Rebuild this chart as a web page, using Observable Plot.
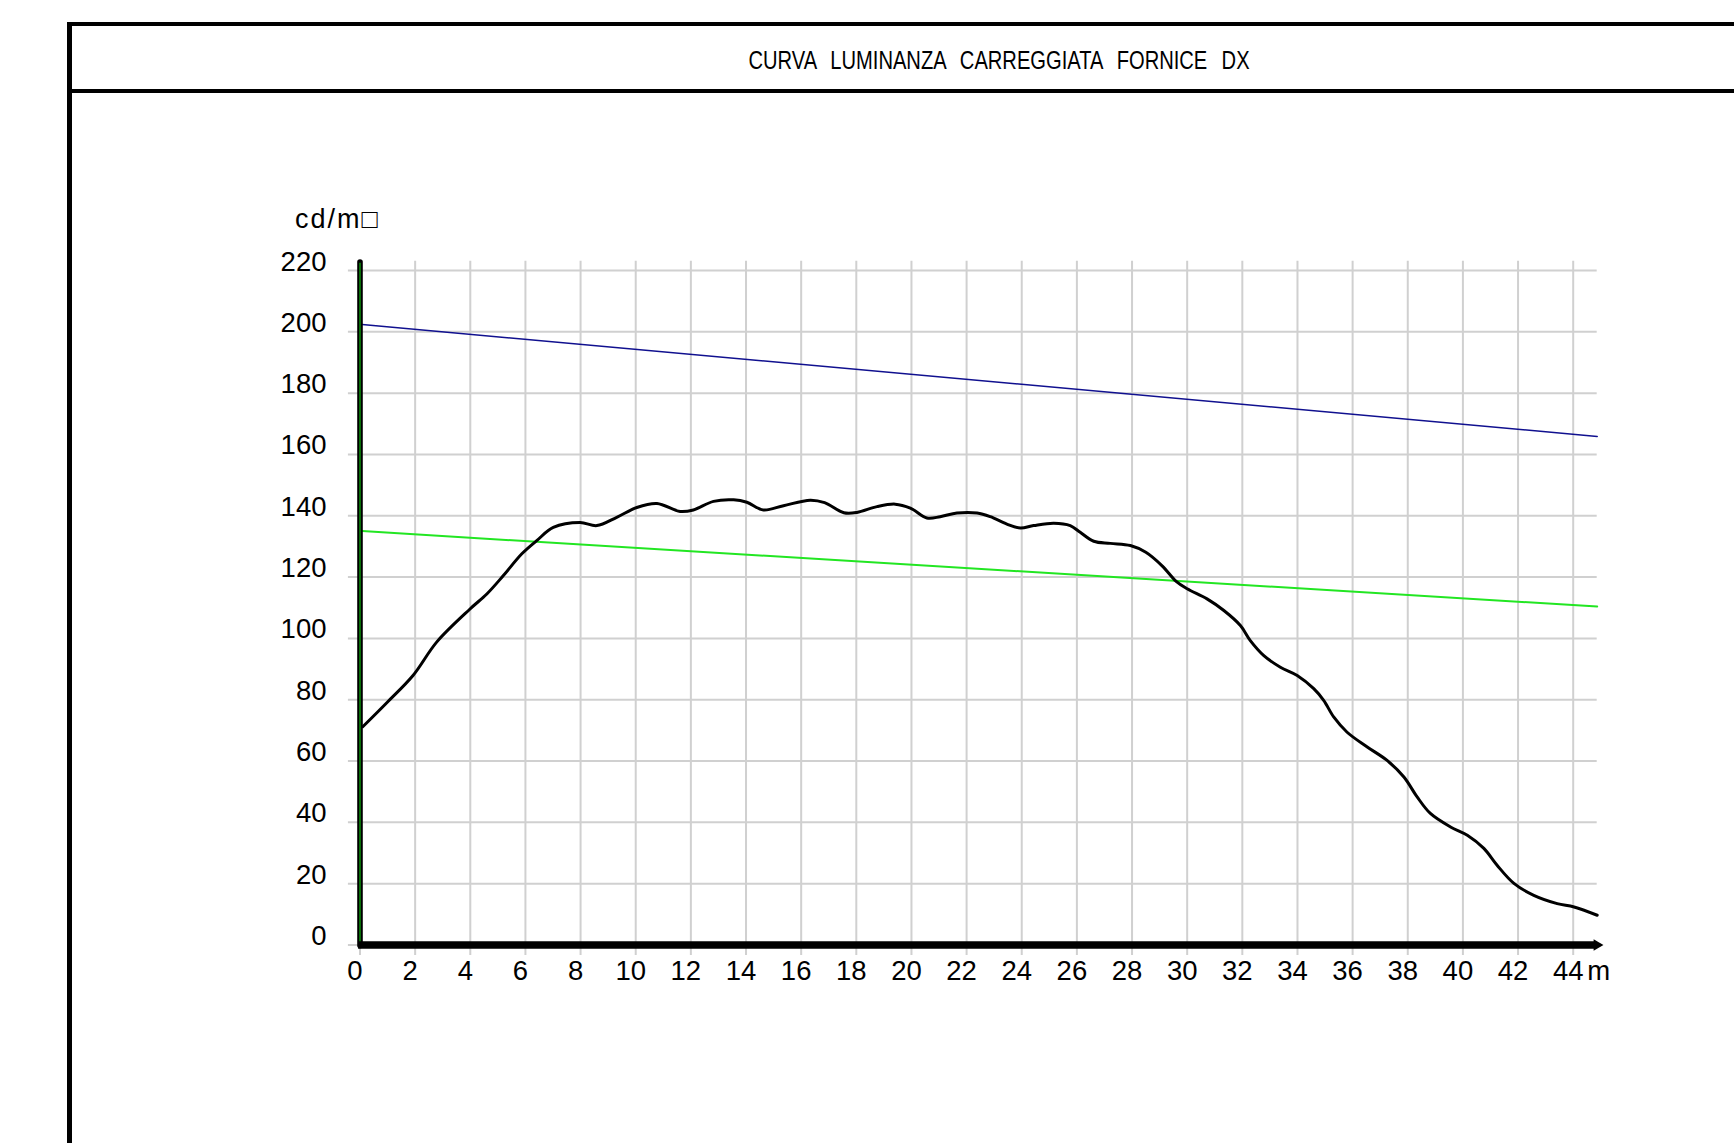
<!DOCTYPE html>
<html>
<head>
<meta charset="utf-8">
<script src="https://cdn.jsdelivr.net/npm/d3@7"></script>
<script src="https://cdn.jsdelivr.net/npm/@observablehq/plot@0.6"></script>
<style>
  html, body { margin: 0; padding: 0; background: #fff; overflow: hidden; }
  #wrap { position: relative; width: 1734px; height: 1143px; background: #fff; }
  #chart { position: absolute; left: 0; top: 0; }
  .frame { position: absolute; left: 66.5px; top: 21.5px; right: -20px; bottom: -20px;
           border-left: 5px solid #000; border-top: 4.5px solid #000; }
  .sep { position: absolute; left: 66.5px; right: 0; top: 89px; height: 4.3px; background: #000; }
  .title { position: absolute; left: 999px; top: 61px; white-space: nowrap;
           font-family: "Liberation Sans", Arial, sans-serif; font-size: 25.5px; line-height: 1;
           word-spacing: 11px; color: #000;
           transform: translate(-50%, -50%) scaleX(0.79); }
  .unit-y { letter-spacing: 2px; }
</style>
</head>
<body>
<div id="wrap">
  <div id="chart"></div>
  <div class="frame"></div>
  <div class="sep"></div>
  <div class="title">CURVA LUMINANZA CARREGGIATA FORNICE DX</div>
</div>
<script>
// ---- data ----
const xTicks = [0, 2, 4, 6, 8, 10, 12, 14, 16, 18, 20, 22, 24, 26, 28, 30, 32, 34, 36, 38, 40, 42, 44];
const yTicks = [0, 20, 40, 60, 80, 100, 120, 140, 160, 180, 200, 220];
const xUnit = "m";
const yUnit = "cd/m\u25A1";

// measured luminance curve (black)
const curveX = [0.1, 0.99, 1.93, 2.78, 3.99, 4.6, 5.2, 5.87, 6.41, 7.01, 7.98, 8.59, 9.31, 10.04, 10.77,
  11.61, 12.09, 12.82, 13.55, 14.03, 14.63, 15.36, 16.33, 16.85, 17.55, 18.02, 18.75, 19.41, 19.96,
  20.56, 21.04, 21.65, 22.38, 22.86, 23.46, 23.95, 24.43, 25.16, 25.76, 26.12, 26.61, 27.21, 27.94,
  28.5, 29.1, 29.6, 30.0, 30.72, 31.33, 31.93, 32.29, 32.78, 33.38, 33.99, 34.59, 34.95, 35.32, 35.8,
  36.53, 37.25, 37.86, 38.34, 38.82, 39.55, 40.16, 40.76, 41.24, 41.85, 42.57, 43.42, 44.03, 44.87];
const curveY = [71.2, 79.2, 88.0, 98.8, 109.6, 114.5, 120.5, 127.6, 131.9, 136.2, 137.8, 136.8, 139.5, 142.7, 144.0,
  141.4, 141.9, 144.7, 145.2, 144.4, 141.9, 143.3, 145.1, 144.3, 141.0, 141.1, 143.0, 143.8, 142.5,
  139.3, 139.7, 140.9, 140.9, 139.7, 137.3, 136.0, 136.8, 137.6, 136.8, 134.6, 131.7, 131.0, 130.3,
  128.1, 123.6, 118.6, 116.2, 112.9, 109.1, 104.2, 99.3, 94.4, 90.6, 87.9, 83.6, 79.8, 74.3, 69.4,
  64.6, 60.2, 54.8, 48.3, 42.9, 38.5, 35.8, 31.5, 26.0, 20.1, 16.2, 13.5, 12.4, 9.7];

// upper reference line (blue)
const upperX = [0.08, 44.87];
const upperY = [202.4, 165.9];

// lower reference line (green)
const lowerX = [0.08, 44.87];
const lowerY = [135.0, 110.4];

const toRows = (xs, ys) => xs.map((x, i) => ({x, y: ys[i]}));
const curve = toRows(curveX, curveY);
const upper = toRows(upperX, upperY);
const lower = toRows(lowerX, lowerY);

const font = "Liberation Sans, Arial, sans-serif";

const chart = Plot.plot({
  width: 1734,
  height: 1143,
  marginLeft: 359.5,
  marginRight: 135.1,
  marginTop: 259.3,
  marginBottom: 198.5,
  x: {domain: [0, 44.95], axis: null},
  y: {domain: [0, 223.5], axis: null},
  style: {background: "transparent", fontFamily: font},
  marks: [
    // grid
    Plot.ruleX(xTicks, {x: d => d, y1: -3.4, y2: 223.0, stroke: "#d0d0d0", strokeWidth: 2}),
    Plot.ruleY(yTicks, {y: d => d, x1: -0.42, x2: 44.87, stroke: "#d0d0d0", strokeWidth: 2}),
    // reference lines
    Plot.line(upper, {x: "x", y: "y", stroke: "#10108f", strokeWidth: 1.5}),
    Plot.line(lower, {x: "x", y: "y", stroke: "#22e622", strokeWidth: 2}),
    // measured curve
    Plot.line(curve, {x: "x", y: "y", stroke: "#000", strokeWidth: 3, curve: "catmull-rom"}),
    // y axis (black with green core)
    Plot.ruleX([0], {y1: -0.3, y2: 222.6, stroke: "#000", strokeWidth: 5.6, strokeLinecap: "round"}),
    Plot.ruleX([0], {y1: 0, y2: 222.4, stroke: "#0b8a0b", strokeWidth: 1.6}),
    // x axis band with arrow tip
    Plot.ruleY([0], {x1: -0.05, x2: 44.82, stroke: "#000", strokeWidth: 7.3}),
    Plot.dot([0], {x: 44.86, y: 0, symbol: "triangle", rotate: 90, r: 4.2, fill: "#000"}),
    // tick labels
    Plot.text(yTicks, {x: 0, y: d => d, text: d => String(d), textAnchor: "end", lineAnchor: "bottom",
      dx: -33.5, fontSize: 27.5, fill: "#000", fontFamily: font}),
    Plot.text(xTicks, {x: d => d, y: 0, text: d => String(d), textAnchor: "middle", lineAnchor: "bottom",
      dx: -5, dy: 35, fontSize: 27.5, fill: "#000", fontFamily: font}),
    Plot.text([xUnit], {x: 44, y: 0, text: d => d, textAnchor: "start", lineAnchor: "bottom",
      dx: 14, dy: 35, fontSize: 27.5, fill: "#000", fontFamily: font}),
    Plot.text([yUnit], {x: 0, y: 220, text: d => d, textAnchor: "start", lineAnchor: "bottom",
      dx: -65, dy: -43, fontSize: 27, fill: "#000", fontFamily: font, className: "unit-y"})
  ]
});
document.getElementById("chart").appendChild(chart);
</script>
</body>
</html>
